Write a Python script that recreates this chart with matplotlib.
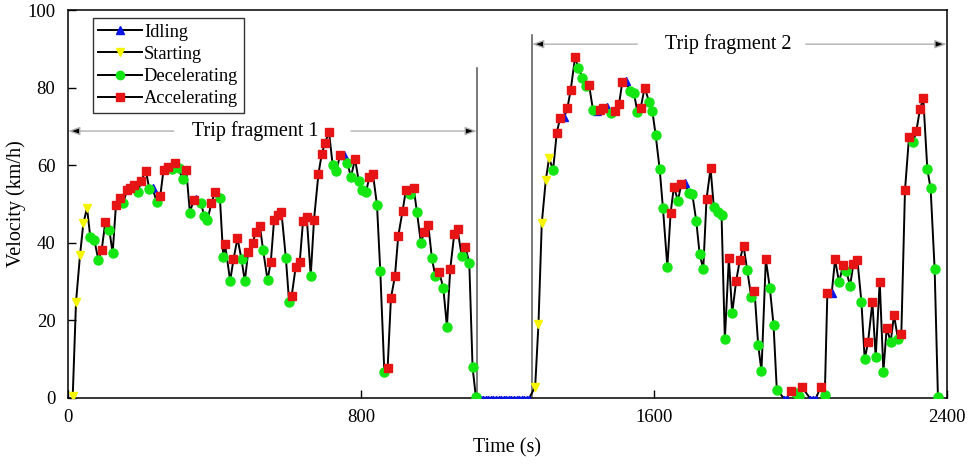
import matplotlib.pyplot as plt
from matplotlib.lines import Line2D
import numpy as np

plt.rcParams['font.family'] = ['Liberation Serif', 'DejaVu Serif']

# driving cycle (time s, speed km/h, phase)
# S = starting, I = idling, D = decelerating, A = accelerating
time_s = [
    13, 22, 33, 42, 52, 61, 72, 83, 92, 102, 113, 122, 131, 142, 151, 161, 170, 181, 192, 199,
    213, 222, 231, 243, 252, 261, 272, 284, 292, 302, 313, 323, 333, 343, 349, 363, 372, 381, 392, 402,
    415, 424, 429, 443, 452, 463, 474, 483, 492, 504, 514, 524, 533, 545, 554, 563, 574, 583, 595, 604,
    611, 622, 633, 642, 652, 663, 672, 684, 693, 702, 713, 723, 733, 743, 753, 763, 773, 784, 794, 803,
    814, 823, 833, 844, 853, 864, 873, 882, 893, 902, 914, 923, 934, 944, 953, 964, 973, 984, 994, 1003,
    1014, 1025, 1035, 1044, 1055, 1064, 1075, 1085, 1096, 1105, 1114,
    1120, 1127, 1134, 1141, 1148, 1155, 1162, 1169, 1176, 1183, 1190, 1197, 1204, 1211, 1218, 1225,
    1232, 1239, 1246, 1253, 1260,
    1276, 1285, 1294, 1305, 1314, 1325, 1335, 1344, 1355, 1364, 1373, 1385, 1394, 1405, 1414, 1423,
    1434, 1444, 1453, 1462, 1471, 1484, 1494, 1505, 1514, 1523, 1535, 1546, 1555, 1564, 1575, 1587,
    1596, 1605, 1616, 1625, 1637, 1646, 1655, 1666, 1675, 1685, 1696, 1705, 1716, 1725, 1735, 1744,
    1755, 1764, 1775, 1785, 1794, 1805, 1814, 1825, 1835, 1845, 1855, 1866, 1875, 1885, 1894, 1906,
    1917, 1927, 1936, 1955, 1963, 1976, 1987, 1996, 2004, 2026, 2035, 2043, 2056, 2067, 2074, 2086,
    2095, 2106, 2117, 2126, 2136, 2145, 2156, 2167, 2176, 2185, 2197, 2206, 2217, 2227, 2236, 2247,
    2256, 2267, 2276, 2286, 2297, 2308, 2317, 2327, 2336, 2347, 2356, 2367, 2376,
]
speed_kmh = [
    0.5, 24.8, 36.9, 45.0, 49.0, 41.4, 40.7, 35.6, 38.1, 45.4, 43.3, 37.3, 49.7, 51.5, 50.2, 53.6, 54.2, 54.9, 53.2, 55.9,
    58.5, 53.9, 54.0, 50.4, 52.0, 58.8, 59.6, 58.9, 60.6, 59.2, 56.4, 58.8, 47.8, 51.0, 51.2, 50.3, 47.0, 45.9, 50.3, 53.2,
    51.5, 36.4, 39.6, 30.2, 35.7, 41.2, 35.7, 30.1, 37.5, 40.0, 42.9, 44.4, 38.1, 30.4, 35.1, 46.0, 47.2, 47.9, 36.2, 24.7,
    26.3, 33.8, 35.1, 45.6, 46.7, 31.5, 46.0, 57.7, 62.8, 65.8, 68.5, 60.0, 58.5, 62.6, 62.6, 60.5, 57.0, 61.6, 56.0, 53.6,
    53.0, 56.9, 57.7, 49.7, 32.6, 6.8, 7.6, 25.7, 31.4, 41.7, 48.3, 53.6, 52.6, 54.2, 48.0, 39.9, 42.9, 44.6, 36.0, 31.5,
    32.4, 28.4, 18.4, 33.2, 42.3, 43.5, 36.7, 39.0, 34.9, 7.9, 0.3,
    0, 0, 0, 0, 0, 0, 0, 0, 0, 0, 0, 0, 0, 0, 0, 0,
    0, 0, 0, 0, 0,
    2.9, 19.1, 45.0, 56.2, 61.8, 58.8, 68.4, 72.1, 72.3, 74.7, 79.4, 87.8, 85.1, 82.6, 80.4, 80.8,
    74.2, 74.0, 74.2, 74.7, 75.1, 73.5, 74.0, 75.7, 81.5, 81.7, 79.1, 78.5, 73.8, 74.7, 80.0, 76.4,
    74.0, 67.8, 59.0, 48.9, 33.8, 47.8, 54.5, 50.8, 55.2, 55.3, 52.9, 52.6, 45.6, 37.2, 33.2, 51.3,
    59.2, 49.1, 48.0, 47.2, 15.1, 36.0, 21.8, 30.2, 35.6, 39.3, 33.0, 26.1, 27.7, 13.7, 7.0, 35.7,
    28.3, 18.8, 2.0, 0, 0, 1.9, 1.2, 0.5, 2.9, 0, 0, 0, 2.9, 0.8, 27.1, 27.1,
    35.7, 29.8, 34.3, 32.6, 28.9, 34.5, 35.6, 24.8, 10.0, 14.3, 24.7, 10.5, 30.0, 6.8, 18.0, 14.5,
    21.4, 15.1, 16.5, 53.5, 67.3, 65.9, 68.8, 74.5, 77.2, 59.0, 54.0, 33.2, 0.3,
]
phase = list(
    "SSSSSDDDAADDAADAAADAADIDAAADADDADAIDDDAA"
    "DDADAADDAAAADDAAAADD"
    "AAAAADAAAAADDAIDDADDDAADDDAAAAAADADDAADDA"
    "DDAAADADDD"
    "IIIIIIIIIIIIIIIIIIIII"
    "SSSSSDAAIAAADDDADIAAIDAAAIDDDAADDDDDDAADAIDDDDDA"
    "ADDDDADAAADDADDADDDIIADDAIIIADAI"
    "ADADDAADDAADADADADAAADAAADDDD"
)

phase_names = ['Idling', 'Starting', 'Decelerating', 'Accelerating']
phase_codes = ['I', 'S', 'D', 'A']
phase_colors = ['#0a14e6', '#f5f500', '#14e614', '#e61414']
phase_markers = ['^', 'v', 'o', 's']

t = np.array(time_s)
v = np.array(speed_kmh)
ph = np.array(phase)

fig = plt.figure(figsize=(9.71, 4.66), dpi=100)
ax = fig.add_axes([0.070, 0.146, 0.905, 0.8325])

ax.plot(t, v, color='black', lw=1.4, zorder=2)
for code, col, mk in zip(phase_codes, phase_colors, phase_markers):
    m = ph == code
    big = m & (v > 0.1)
    small = m & (v <= 0.1)
    ms = 6.5 if mk == 'o' else 5.5
    ax.plot(t[big], v[big], ls='none', marker=mk, ms=ms, color=col, mec=col, zorder=3)
    ax.plot(t[small], v[small], ls='none', marker=mk, ms=3.2, color=col, mec=col, zorder=3)

# fragment boundaries
ax.plot([1118, 1118], [0, 85], color='#555555', lw=1.1, zorder=1)
ax.plot([1266, 1266], [0, 93.6], color='#555555', lw=1.1, zorder=1)

arrow = dict(arrowstyle='-|>,head_length=0.7,head_width=0.25', fc='black', ec='#b0b0b0', lw=1.0,
             shrinkA=0, shrinkB=0)
ax.annotate('', xy=(0, 68.8), xytext=(289, 68.8), arrowprops=arrow)
ax.annotate('', xy=(1117, 68.8), xytext=(773, 68.8), arrowprops=arrow)
ax.text(512, 68.8, 'Trip fragment 1', fontsize=14.5, ha='center', va='center')
ax.annotate('', xy=(1267, 91.2), xytext=(1555, 91.2), arrowprops=arrow)
ax.annotate('', xy=(2400, 91.2), xytext=(2015, 91.2), arrowprops=arrow)
ax.text(1802, 91.2, 'Trip fragment 2', fontsize=14.5, ha='center', va='center')

ax.set_xlim(0, 2400)
ax.set_ylim(0, 100)
ax.set_xticks([0, 800, 1600, 2400])
ax.set_yticks([0, 20, 40, 60, 80, 100])
ax.tick_params(direction='in', length=6, width=1, labelsize=13.5, top=False, right=False)
ax.tick_params(axis='x', pad=8)
ax.tick_params(axis='y', pad=9)
for s in ax.spines.values():
    s.set_linewidth(1.1)
ax.set_xlabel('Time (s)', fontsize=14.5, labelpad=9)
ax.set_ylabel('Velocity (km/h)', fontsize=14.5, labelpad=1)

handles = [Line2D([], [], color='black', lw=1.4, marker=mk, ms=6 if mk == 'o' else 5.5,
                  mfc=col, mec=col)
           for col, mk in zip(phase_colors, phase_markers)]
leg = ax.legend(handles, phase_names, loc='upper left', bbox_to_anchor=(0.028, 0.979),
                fontsize=13.2, frameon=True, fancybox=False, edgecolor='black',
                handlelength=2.4, handletextpad=0.1, borderpad=0.3, labelspacing=0.28,
                borderaxespad=0, handleheight=0.7)
leg.get_frame().set_linewidth(1.0)

fig.savefig('out.png', dpi=100)
